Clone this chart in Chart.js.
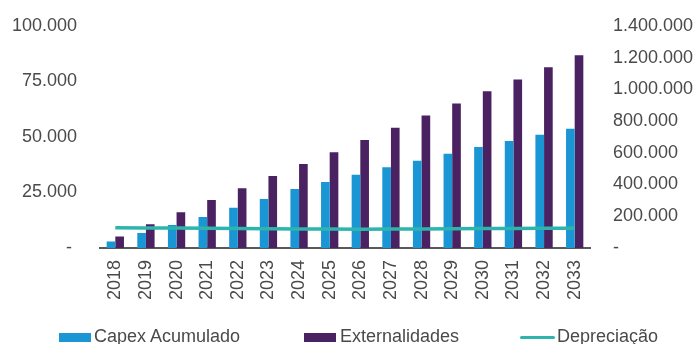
<!DOCTYPE html>
<html>
<head>
<meta charset="utf-8">
<script src="https://cdn.jsdelivr.net/npm/chart.js@4.4.0/dist/chart.umd.min.js"></script>
<style>
  body { margin: 0; background: #fff; }
  #wrap { position: relative; width: 693px; height: 344px; overflow: hidden; }
  #grafico { display: block; }
  .lg { position: absolute; top: 326px; font-family: "Liberation Sans", Arial, sans-serif; font-size: 18px; line-height: 20px; color: #4a4a4a; white-space: nowrap; }
  .sw { position: absolute; }
</style>
</head>
<body>
<div id="wrap">
  <canvas id="grafico" width="693" height="344"></canvas>
  <div class="sw" id="sw-capex" style="left:59px;top:333px;width:32px;height:9px"></div>
  <div class="lg" style="left:94px">Capex Acumulado</div>
  <div class="sw" id="sw-ext" style="left:304px;top:333px;width:32px;height:9px"></div>
  <div class="lg" style="left:340px">Externalidades</div>
  <div class="sw" id="sw-dep" style="left:520px;top:336px;width:35px;height:3px;border-radius:2px"></div>
  <div class="lg" style="left:557px">Depreciação</div>
</div>
<script>
// anos
var anos = ["2018", "2019", "2020", "2021", "2022", "2023", "2024", "2025",
  "2026", "2027", "2028", "2029", "2030", "2031", "2032", "2033"];

// eixo esquerdo
var capexAcumulado = [2950, 6700, 10300, 14000, 18100, 22100, 26600, 29700,
  33000, 36300, 39300, 42400, 45400, 48200, 51000, 53700];
var depreciacao = [9060, 9000, 8950, 8850, 8750, 8700, 8600, 8520,
  8480, 8520, 8600, 8680, 8750, 8820, 8880, 8930];

// eixo direito
var externalidades = [72500, 150000, 225000, 302000, 377000, 454000, 529000, 604000,
  681000, 758000, 835000, 910000, 987000, 1062000, 1139000, 1214000];

var ticksEsq = [0, 25000, 50000, 75000, 100000];
var ticksDir = [0, 200000, 400000, 600000, 800000, 1000000, 1200000, 1400000];

var corCapex = "#1b96d4";
var corExt = "#4a2161";
var corDep = "#2db5ad";
var corTexto = "#4a4a4a";

document.getElementById("sw-capex").style.background = corCapex;
document.getElementById("sw-ext").style.background = corExt;
document.getElementById("sw-dep").style.background = corDep;

function formata(v) {
  return String(v).replace(/\B(?=(\d{3})+(?!\d))/g, ".");
}

var fonte = { family: "'Liberation Sans', Arial, sans-serif", size: 18 };

var ctx = document.getElementById("grafico").getContext("2d");

var grafico = new Chart(ctx, {
  data: {
    labels: anos,
    datasets: [
      {
        type: "line",
        label: "Depreciação",
        data: depreciacao,
        yAxisID: "y",
        borderColor: corDep,
        borderWidth: 3.5,
        pointRadius: 0,
        tension: 0,
        order: 0,
      },
      {
        type: "bar",
        label: "Capex Acumulado",
        data: capexAcumulado,
        yAxisID: "y",
        backgroundColor: corCapex,
        order: 1,
      },
      {
        type: "bar",
        label: "Externalidades",
        data: externalidades,
        yAxisID: "y1",
        backgroundColor: corExt,
        order: 1,
      },
    ],
  },
  options: {
    responsive: false,
    animation: false,
    layout: { padding: { top: 16, left: 0, right: 0, bottom: 0 } },
    datasets: {
      bar: { categoryPercentage: 0.565, barPercentage: 1 },
    },
    plugins: {
      legend: { display: false },
      tooltip: { enabled: false },
    },
    scales: {
      x: {
        grid: { drawOnChartArea: false, drawTicks: false },
        border: { display: true, color: "#595959", width: 2 },
        ticks: {
          color: corTexto,
          font: fonte,
          minRotation: 90,
          maxRotation: 90,
          padding: 12,
        },
        afterFit: function (scale) {
          scale.height = 96;
        },
      },
      y: {
        position: "left",
        min: 0,
        max: 100000,
        grid: { display: false },
        border: { display: false },
        afterBuildTicks: function (scale) {
          scale.ticks = ticksEsq.map(function (v) { return { value: v }; });
        },
        ticks: {
          color: corTexto,
          font: fonte,
          padding: 15,
          callback: function (v) {
            return v === 0 ? "- " : formata(v);
          },
        },
        afterFit: function (scale) {
          scale.width = 100;
        },
      },
      y1: {
        position: "right",
        min: 0,
        max: 1400000,
        grid: { display: false },
        border: { display: false },
        afterBuildTicks: function (scale) {
          scale.ticks = ticksDir.map(function (v) { return { value: v }; });
        },
        ticks: {
          color: corTexto,
          font: fonte,
          padding: 15,
          callback: function (v) {
            return v === 0 ? "-" : formata(v);
          },
        },
        afterFit: function (scale) {
          scale.width = 103;
        },
      },
    },
  },
});
</script>
</body>
</html>
